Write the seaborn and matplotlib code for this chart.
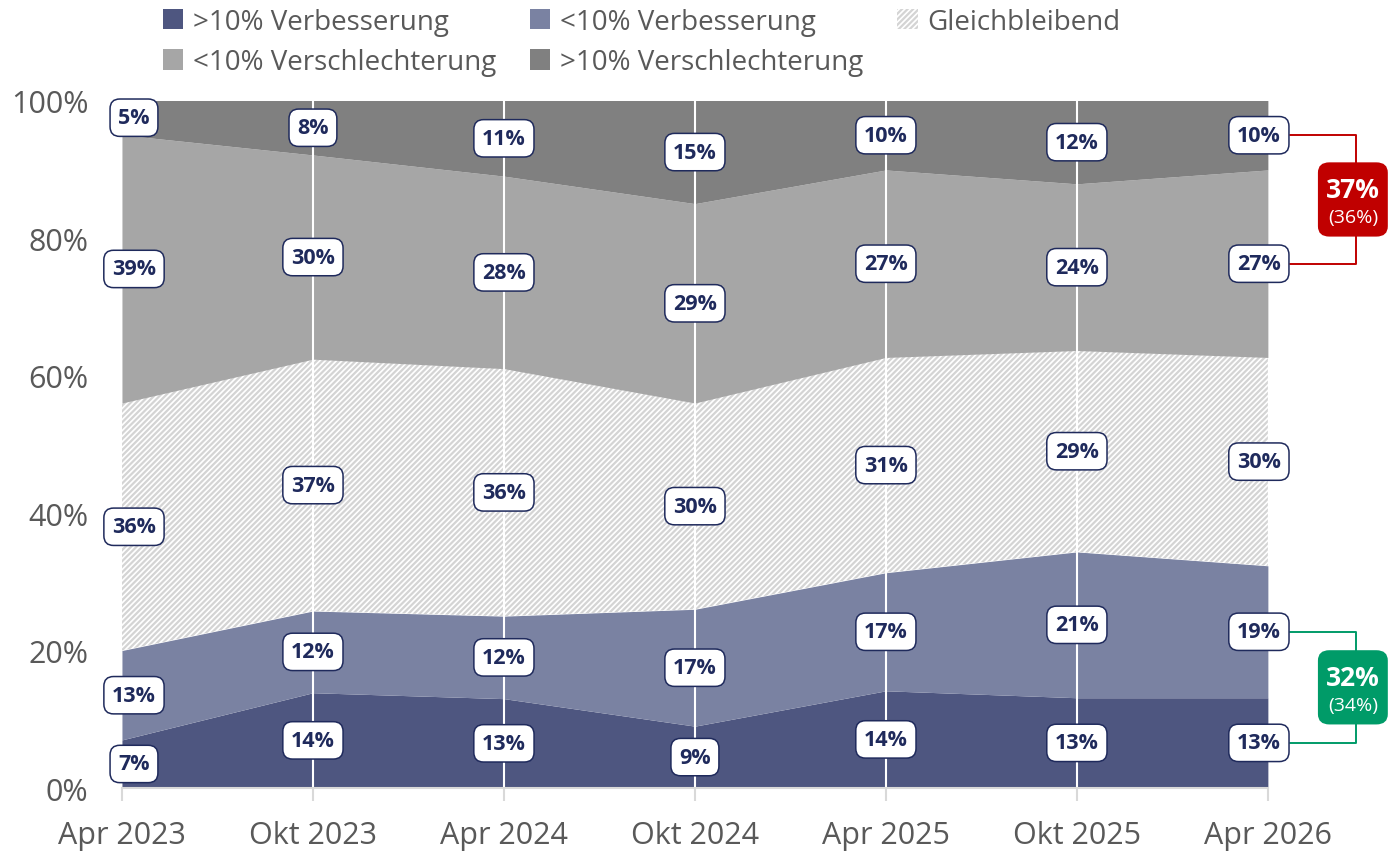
"""Stacked share chart: expected change, Apr 2023 - Apr 2026."""

import matplotlib.pyplot as plt
import numpy as np
import pandas as pd
import seaborn as sns
from matplotlib.patches import FancyBboxPatch, Patch

periods = ["Apr 2023", "Okt 2023", "Apr 2024", "Okt 2024", "Apr 2025", "Okt 2025", "Apr 2026"]
series_names = [
    ">10% Verbesserung",
    "<10% Verbesserung",
    "Gleichbleibend",
    "<10% Verschlechterung",
    ">10% Verschlechterung",
]
verb_stark = [7, 14, 13, 9, 14, 13, 13]
verb_leicht = [13, 12, 12, 17, 17, 21, 19]
gleich = [36, 37, 36, 30, 31, 29, 30]
versch_leicht = [39, 30, 28, 29, 27, 24, 27]
versch_stark = [5, 8, 11, 15, 10, 12, 10]

# summary boxes on the right (current value, previous value in brackets)
neg_summary = ("37%", "(36%)")
pos_summary = ("32%", "(34%)")

COLORS = ["#4e5680", "#7a82a2", "#ffffff", "#a6a6a6", "#808080"]
HATCH_COLOR = "#d4d4d4"
LABEL_COLOR = "#1f2a5c"
TICK_COLOR = "#595959"
RED = "#c00000"
GREEN = "#009b68"

sns.set_theme(style="white")
plt.rcParams["font.family"] = ["Open Sans", "DejaVu Sans"]
plt.rcParams["hatch.linewidth"] = 1.6

df = pd.DataFrame(
    {
        series_names[0]: verb_stark,
        series_names[1]: verb_leicht,
        series_names[2]: gleich,
        series_names[3]: versch_leicht,
        series_names[4]: versch_stark,
    },
    index=periods,
)
share = df.div(df.sum(axis=1), axis=0) * 100

fig = plt.figure(figsize=(13.89, 8.53), dpi=100)
ax = fig.add_axes([0.0878, 0.075, 0.825, 0.806])

x = np.arange(len(periods))
polys = ax.stackplot(x, share.T.values, colors=COLORS, linewidth=0)
polys[2].set_hatch("//////")
polys[2].set_edgecolor(HATCH_COLOR)
polys[2].set_linewidth(0)

ax.set_xlim(0, len(periods) - 1)
ax.set_ylim(0, 100)
ax.set_yticks(range(0, 101, 20))
ax.set_yticklabels([f"{v}%" for v in range(0, 101, 20)])
ax.set_xticks(x)
ax.set_xticklabels(periods)
ax.tick_params(axis="y", length=0, pad=24, labelsize=22, labelcolor=TICK_COLOR)
ax.tick_params(axis="x", length=9, width=1.5, color="#d9d9d9", pad=14,
               labelsize=22, labelcolor=TICK_COLOR, bottom=True)
for xi in x[1:-1]:
    ax.axvline(xi, color="white", lw=1.5, zorder=3)
sns.despine(ax=ax, left=True)
ax.spines["bottom"].set_color("#d9d9d9")
ax.spines["bottom"].set_linewidth(1.5)
ax.spines["bottom"].set_zorder(4)

# data labels in band middles
cum = share.cumsum(axis=1)
mids = cum - share / 2
x_shift = {0: 0.063, len(periods) - 1: -0.047}
for i in range(len(periods)):
    for name in series_names:
        ax.text(
            x[i] + x_shift.get(i, 0), mids.loc[periods[i], name],
            f"{df.loc[periods[i], name]}%",
            ha="center", va="center", fontsize=15.5, fontweight="bold",
            color=LABEL_COLOR, zorder=6,
            bbox=dict(boxstyle="round,pad=0.38,rounding_size=0.45",
                      fc="white", ec=LABEL_COLOR, lw=1.1),
        )


def bracket(y_top, y_bot, color, texts):
    last = len(periods) - 1
    x0, x1 = last + 0.115, last + 0.461
    ax.plot([x0, x1, x1, x0], [y_top, y_top, y_bot, y_bot], color=color,
            lw=1.4, clip_on=False, zorder=5)
    yc = (y_top + y_bot) / 2
    box = FancyBboxPatch((last + 0.262, yc - 5.4), 0.366, 10.8,
                         boxstyle="round,pad=0,rounding_size=0.06",
                         fc=color, ec="none", clip_on=False, zorder=7,
                         mutation_aspect=25)
    ax.add_patch(box)
    ax.text(last + 0.445, yc + 1.5, texts[0], ha="center", va="center",
            color="white", fontsize=19, fontweight="bold", zorder=8, clip_on=False)
    ax.text(last + 0.445, yc - 2.6, texts[1], ha="center", va="center",
            color="white", fontsize=14, zorder=8, clip_on=False)


last_p = periods[-1]
bracket(mids.loc[last_p, series_names[4]], mids.loc[last_p, series_names[3]], RED, neg_summary)
bracket(mids.loc[last_p, series_names[1]], mids.loc[last_p, series_names[0]], GREEN, pos_summary)

handles = [
    Patch(fc=COLORS[0], ec="none"),
    Patch(fc=COLORS[1], ec="none"),
    Patch(fc="white", ec=HATCH_COLOR, hatch="//////", lw=0),
    Patch(fc=COLORS[3], ec="none"),
    Patch(fc=COLORS[4], ec="none"),
]
order = [0, 3, 1, 4, 2]
fig.legend(
    [handles[k] for k in order], [series_names[k] for k in order],
    loc="upper left", bbox_to_anchor=(0.117, 0.99), ncol=3, frameon=False,
    borderpad=0, borderaxespad=0,
    fontsize=20, labelcolor=TICK_COLOR, handlelength=0.75, handleheight=0.75,
    handletextpad=0.35, columnspacing=1.2, labelspacing=0.45,
)

fig.savefig("out.png", dpi=100)
plt.close(fig)
